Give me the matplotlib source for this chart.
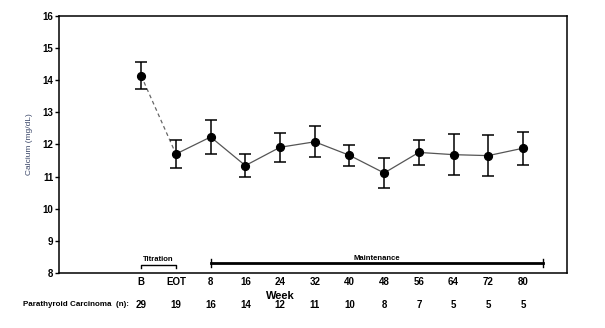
import numpy as np
import matplotlib.pyplot as plt

plt.rcParams['font.family'] = ['Liberation Sans', 'DejaVu Sans']

visits = ['B', 'EOT', '8', '16', '24', '32', '40', '48', '56', '64', '72', '80']
calcium = [14.13, 11.70, 12.23, 11.34, 11.91, 12.08, 11.66, 11.11, 11.75, 11.68, 11.65, 11.88]
err = [0.42, 0.45, 0.53, 0.37, 0.45, 0.48, 0.33, 0.47, 0.40, 0.64, 0.63, 0.51]
n_patients = [29, 19, 16, 14, 12, 11, 10, 8, 7, 5, 5, 5]

x = np.arange(len(visits))

fig = plt.figure(figsize=(6.05, 3.28), dpi=100)
ax = fig.add_axes([0.0975, 0.1677, 0.8392, 0.7843])

# baseline -> end of titration is dashed, maintenance phase solid
ax.plot(x[:2], calcium[:2], color='#666666', lw=0.9, ls=(0, (3, 2.5)), zorder=2)
ax.plot(x[1:], calcium[1:], color='#555555', lw=0.9, zorder=2)
ax.errorbar(x, calcium, yerr=err, fmt='o', color='black', ms=5.6,
            ecolor='black', elinewidth=1.1, capsize=4.5, capthick=1.1, zorder=3)

ax.set_xlim(-2.37, 12.26)
ax.set_ylim(8, 16)
ax.set_yticks(range(8, 17))
ax.set_xticks(x)
ax.set_xticklabels(visits, fontsize=7, fontweight='bold')
ax.tick_params(axis='x', length=0, pad=3)
ax.tick_params(axis='y', length=3, width=1, labelsize=7, pad=1)
for lab in ax.get_yticklabels():
    lab.set_fontweight('bold')
for s in ax.spines.values():
    s.set_linewidth(1.1)

ax.set_ylabel('Calcium (mg/dL)', fontsize=6, color='#3a4668')
ax.yaxis.set_label_coords(-0.051, 0.5)

# phase brackets
ax.plot([0, 0, 1, 1], [8.16, 8.26, 8.26, 8.16], color='black', lw=1.0)
ax.text(0.5, 8.30, 'Titration', ha='center', va='bottom', fontsize=5.5, fontweight='bold')
ax.plot([2, 11.58], [8.31, 8.31], color='black', lw=2.0)
ax.plot([2, 2], [8.19, 8.43], color='black', lw=1.0)
ax.plot([11.58, 11.58], [8.19, 8.43], color='black', lw=1.0)
ax.text(6.8, 8.35, 'Maintenance', ha='center', va='bottom', fontsize=5.5, fontweight='bold')

ax.text(4, 7.30, 'Week', ha='center', va='center', fontsize=8, fontweight='bold',
        clip_on=False)

# patient counts under the axis
ax.text(-3.42, 7.01, 'Parathyroid Carcinoma  (n):', ha='left', va='center',
        fontsize=5.8, fontweight='bold', clip_on=False)
for xi, n in zip(x, n_patients):
    ax.text(xi, 7.01, str(n), ha='center', va='center', fontsize=7,
            fontweight='bold', clip_on=False)

fig.savefig('out.png', dpi=100)
